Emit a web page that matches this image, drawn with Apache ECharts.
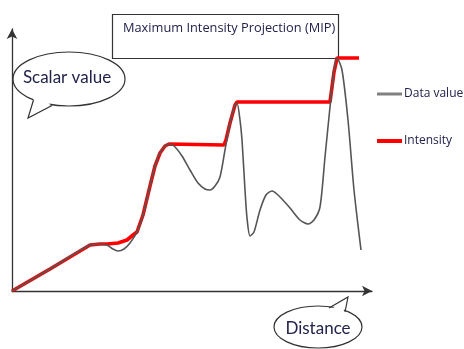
<!DOCTYPE html>
<html>
<head>
<meta charset="utf-8">
<script src="https://cdn.jsdelivr.net/npm/echarts@6/dist/echarts.min.js"></script>
<style>html,body{margin:0;padding:0;background:#fff}#c{width:464px;height:349px}</style>
</head>
<body>
<div id="c"></div>
<script>
// Distance (x) and scalar value (y), arbitrary units
const dataDistance = [0,38,78,88,95,101,106,112,118,125,131,138,143,148,153,157,162,170,178,186,193,198,203,208,213,218,223,225,228,230,233,235,238,242,248,254,260,268,278,288,296,302,308,313,318,322,325,330,336,342,349];
const dataValue    = [0,22,46,47,46,42,40,42,48,59,76,105,125,138,145,147,145,135,121,108,102,101,105,114,141,168,186,188,171,151,101,73,55,59,81,96,100,94,83,71,67,71,84,134,184,221,233,221,171,101,41];

const intensityDistance = [0,38,78,88,95,106,115,121,125,131,138,143,148,153,157,212,214,218,223,225,318,322,325,347];
const intensityValue    = [0,22,46,47,47,48,51,56,59,76,105,125,138,145,147,146,151,168,186,189,189,219,233,233];

const seriesNames = ['Data value','Intensity'];
const titleText = 'Maximum Intensity Projection (MIP)';
const yAxisText = 'Scalar value';
const xAxisText = 'Distance';

const zip = (xs, ys) => xs.map((x, i) => [x, ys[i]]);
const txtColor = '#22224c';
const font = 'Lato, "Open Sans", sans-serif';
const font2 = '"Open Sans", Lato, sans-serif';

const chart = echarts.init(document.getElementById('c'), null, {renderer: 'canvas'});
chart.setOption({
  animation: false,
  backgroundColor: '#fff',
  grid: {left: 12, top: 29, width: 360, height: 262},
  xAxis: {
    type: 'value', min: 0, max: 360,
    axisLine: {show: true, onZero: false, symbol: ['none','arrow'], symbolSize: [8, 10], lineStyle: {color: '#333', width: 1.3}},
    axisTick: {show: false}, axisLabel: {show: false}, splitLine: {show: false}
  },
  yAxis: {
    type: 'value', min: 0, max: 262,
    axisLine: {show: true, onZero: false, symbol: ['none','arrow'], symbolSize: [8, 10], lineStyle: {color: '#333', width: 1.3}},
    axisTick: {show: false}, axisLabel: {show: false}, splitLine: {show: false}
  },
  legend: [
    {data: [{name: seriesNames[0], icon: 'rect'}], left: 377, top: 88, orient: 'vertical', padding: 0,
     itemWidth: 25, itemHeight: 3, itemGap: 0,
     textStyle: {color: txtColor, fontSize: 12, fontFamily: font2, padding: [0,0,0,-3]}},
    {data: [{name: seriesNames[1], icon: 'rect'}], left: 377, top: 135, orient: 'vertical', padding: 0,
     itemWidth: 25, itemHeight: 4, itemGap: 0,
     textStyle: {color: txtColor, fontSize: 12, fontFamily: font2, padding: [0,0,0,-3]}}
  ],
  series: [
    {name: seriesNames[1], type: 'line', data: zip(intensityDistance, intensityValue), showSymbol: false, symbol: 'none',
     smooth: false, lineStyle: {color: '#ff0000', width: 3.6}, itemStyle: {color: '#ff0000'}, z: 2},
    {name: seriesNames[0], type: 'line', data: zip(dataDistance, dataValue), showSymbol: false, symbol: 'none',
     smooth: 0.25, lineStyle: {color: '#555', width: 1.6}, itemStyle: {color: '#808080'}, z: 3}
  ],
  graphic: [
    {type: 'rect', shape: {x: 112.5, y: 14.5, width: 226, height: 44}, style: {fill: '#fff', stroke: '#333', lineWidth: 1.2}, z: 1},
    {type: 'text', x: 123, y: 28, style: {text: titleText, fill: txtColor, font: '12.8px ' + font2, textVerticalAlign: 'middle'}, z: 10},
    // Scalar value bubble
    {type: 'ellipse', shape: {cx: 69, cy: 79, rx: 56, ry: 27}, style: {fill: '#fff', stroke: '#333', lineWidth: 1.2}, z: 20},
    {type: 'polygon', shape: {points: [[34,98],[28,117],[51,104]]}, style: {fill: '#fff'}, z: 21},
    {type: 'polyline', shape: {points: [[33.5,100],[28,118],[52,105.5]]}, style: {stroke: '#333', lineWidth: 1.2, fill: null}, z: 22},
    {type: 'text', x: 67, y: 78, style: {text: yAxisText, fill: txtColor, font: '17px ' + font, textAlign: 'center', textVerticalAlign: 'middle'}, z: 23},
    // Distance bubble
    {type: 'ellipse', shape: {cx: 318, cy: 327, rx: 44, ry: 21}, style: {fill: '#fff', stroke: '#333', lineWidth: 1.2}, z: 20},
    {type: 'polygon', shape: {points: [[330,310],[347,299],[343,313]]}, style: {fill: '#fff'}, z: 21},
    {type: 'polyline', shape: {points: [[329,308],[348,297],[345,312]]}, style: {stroke: '#333', lineWidth: 1.2, fill: null}, z: 22},
    {type: 'text', x: 318, y: 329, style: {text: xAxisText, fill: txtColor, font: '17px ' + font, textAlign: 'center', textVerticalAlign: 'middle'}, z: 23}
  ]
});
</script>
</body>
</html>
